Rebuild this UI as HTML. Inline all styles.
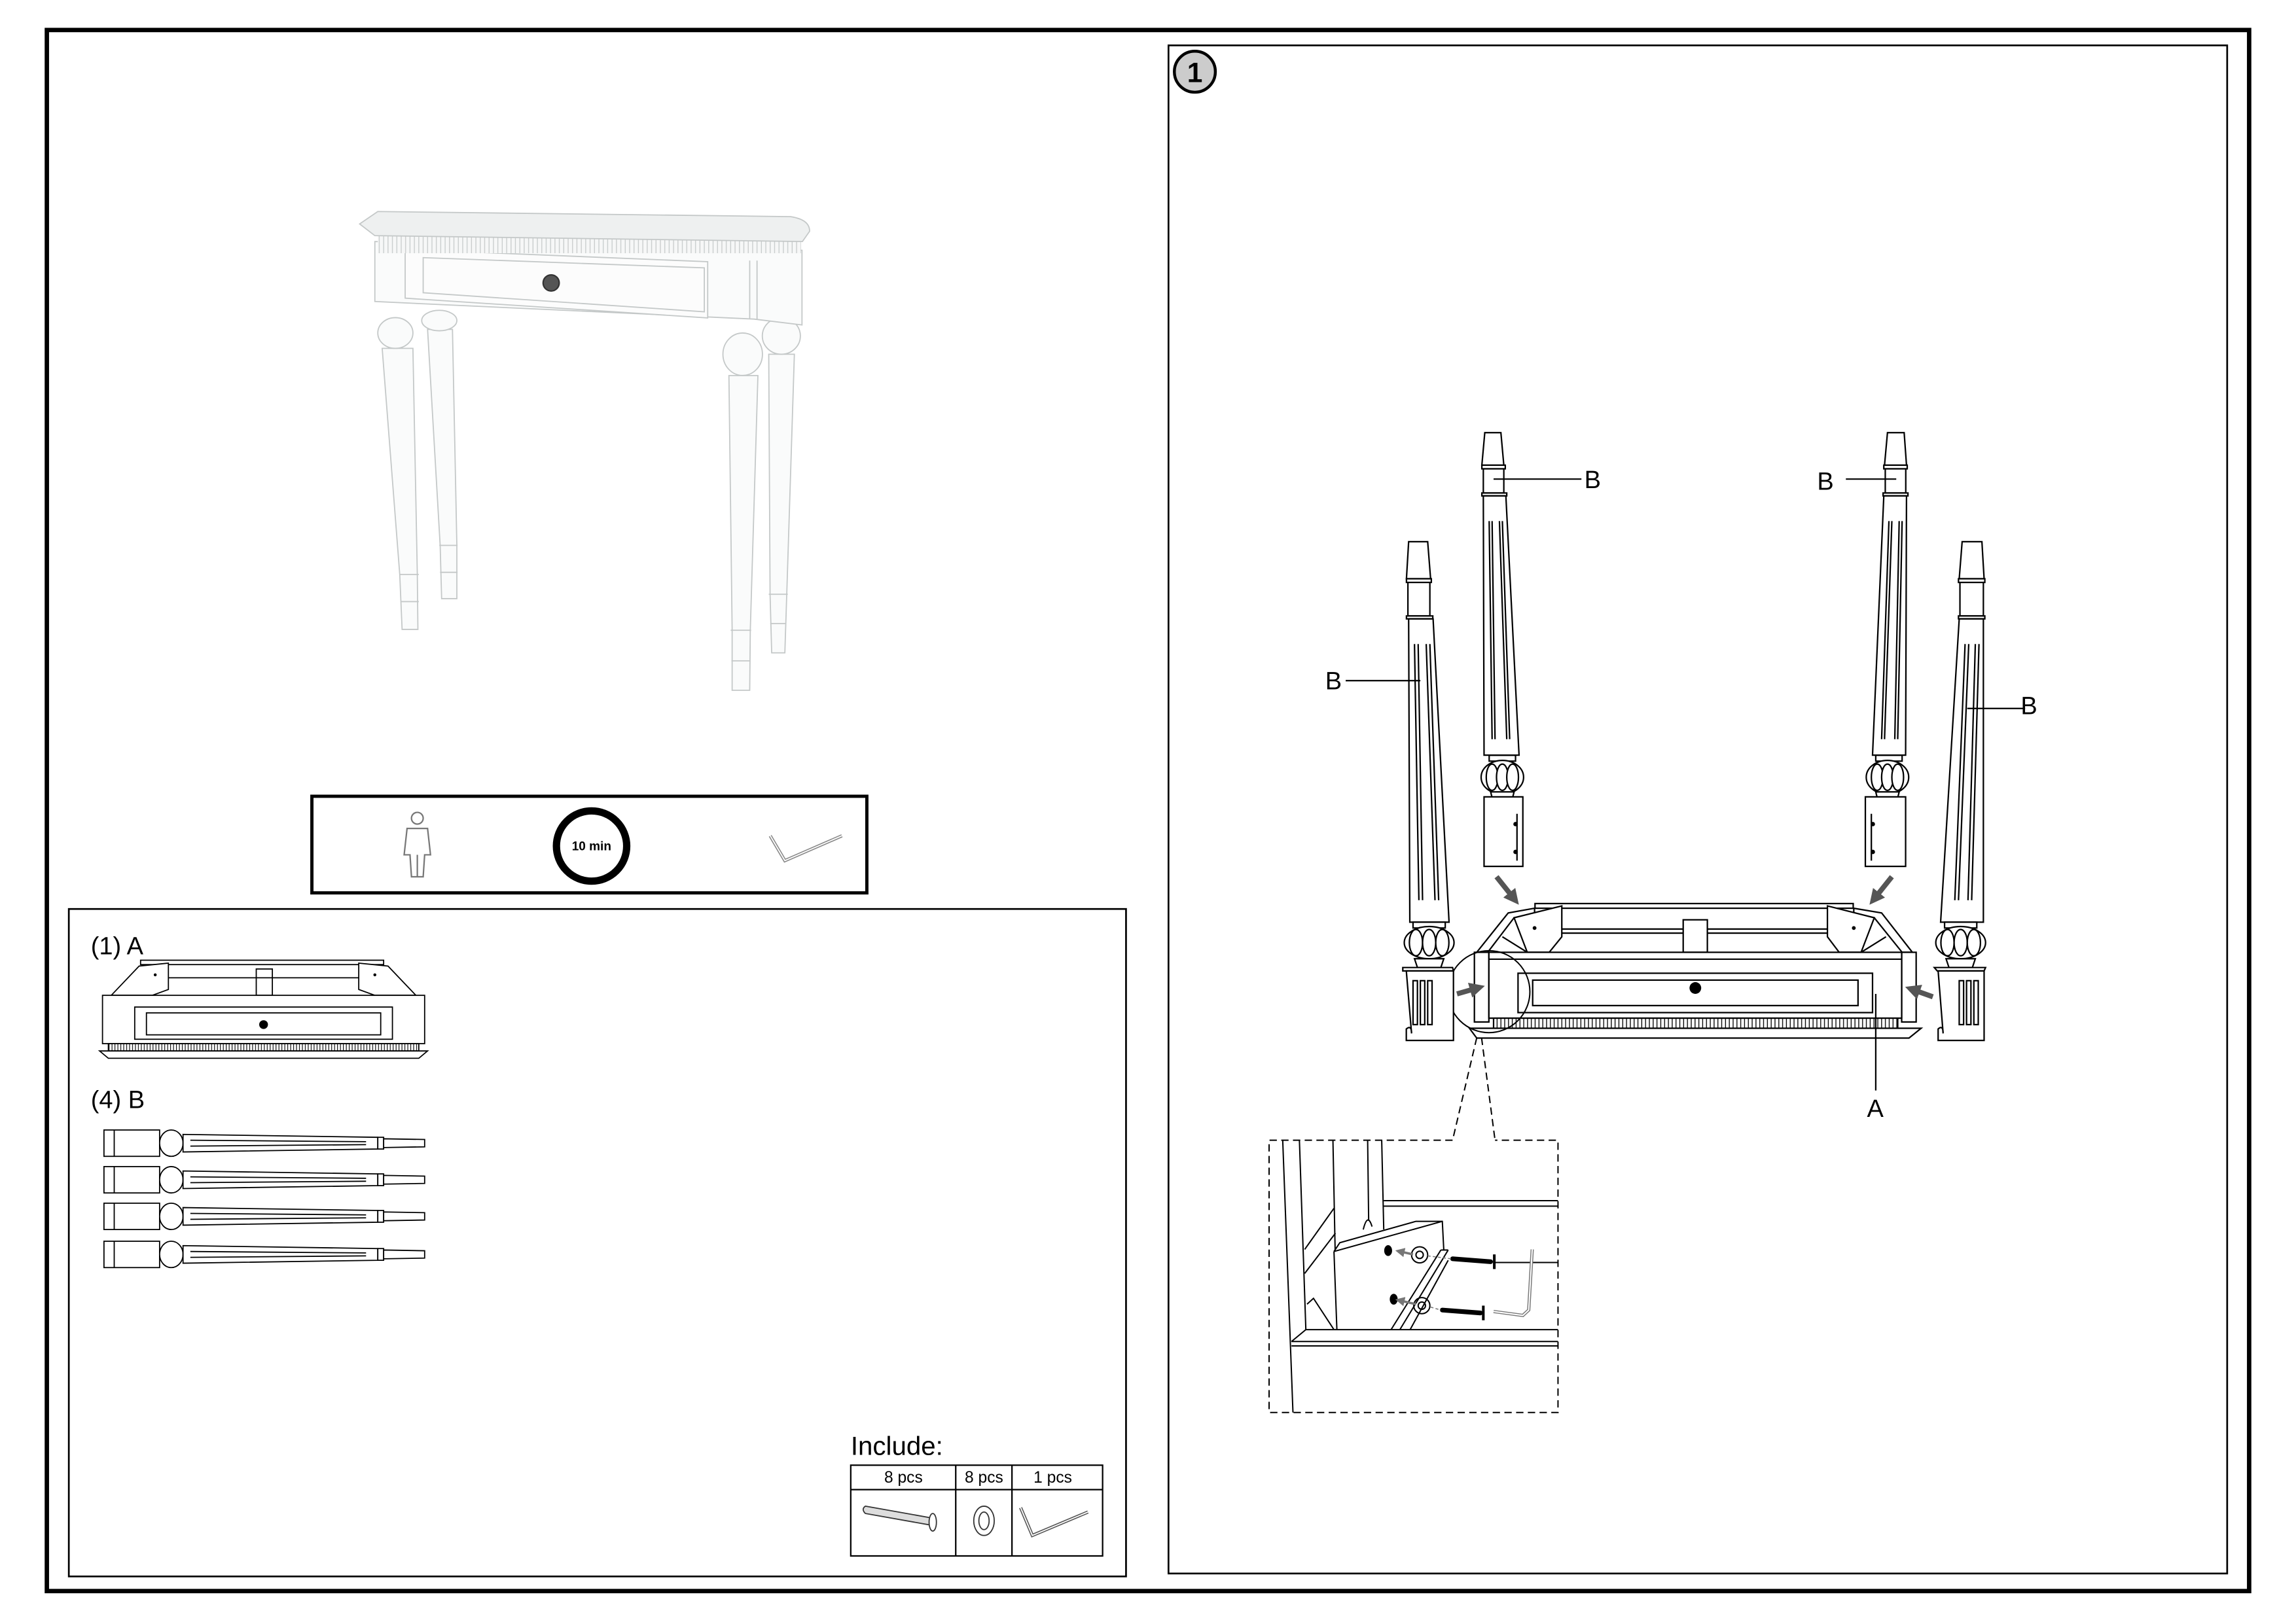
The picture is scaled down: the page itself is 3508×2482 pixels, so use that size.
<!DOCTYPE html>
<html><head><meta charset="utf-8"><style>
html,body{margin:0;padding:0;background:#fff;}
svg{display:block;}
text{font-family:"Liberation Sans",sans-serif;}
</style></head><body>
<svg width="3508" height="2482" viewBox="0 0 1568 1109.5" preserveAspectRatio="none" xmlns="http://www.w3.org/2000/svg">
<defs>
<marker id="ah" viewBox="0 0 10 10" refX="5" refY="5" markerWidth="3" markerHeight="3" orient="auto"><path d="M0,0 L10,5 L0,10 z" fill="#555"/></marker>
<marker id="ah2" viewBox="0 0 10 10" refX="5" refY="5" markerWidth="4" markerHeight="4" orient="auto"><path d="M0,0 L10,5 L0,10 z" fill="#777"/></marker>
<pattern id="tick" width="2.6" height="10" patternUnits="userSpaceOnUse"><rect width="2.6" height="10" fill="#fff"/><line x1="0.6" y1="0" x2="0.6" y2="10" stroke="#000" stroke-width="0.6"/></pattern>
<pattern id="tick2" width="2" height="10" patternUnits="userSpaceOnUse"><rect width="2" height="10" fill="#fff"/><line x1="0.5" y1="0" x2="0.5" y2="10" stroke="#000" stroke-width="0.5"/></pattern>
<pattern id="dent" width="3" height="10" patternUnits="userSpaceOnUse"><rect width="3" height="10" fill="#f6f7f7"/><line x1="1" y1="0" x2="1" y2="10" stroke="#c8cccc" stroke-width="0.6"/></pattern>
</defs>
<rect width="1568" height="1109.5" fill="#fff"/>
<rect x="32" y="20.5" width="1504" height="1066.5" fill="none" stroke="#000" stroke-width="3"/>
<rect x="798" y="31" width="723" height="1044" fill="none" stroke="#000" stroke-width="1.2"/>
<circle cx="816" cy="49" r="14" fill="#ccc" stroke="#000" stroke-width="2"/>
<text x="816" y="56" font-size="19" font-weight="bold" text-anchor="middle">1</text>
<rect x="47" y="621" width="722" height="456" fill="none" stroke="#000" stroke-width="1.2"/>

<!-- table photo -->
<g fill="#fafbfb" stroke="#c4c8c8" stroke-width="0.8">
<!-- back legs -->
<path d="M292,225 L309,225 L312,372.6 L312,409 L301.6,409 L300.6,372.6 Z"/>
<line x1="300" y1="372.6" x2="312.5" y2="372.6"/><line x1="300.5" y1="391" x2="312.5" y2="391"/>
<ellipse cx="300" cy="219" rx="12" ry="7"/>
<path d="M525,242 L542.5,242 L537.3,406 L536,446 L527,446 L525.9,406 Z"/>
<line x1="525" y1="406" x2="538" y2="406"/><line x1="526" y1="426" x2="537" y2="426"/>
<ellipse cx="533.6" cy="229.5" rx="13" ry="12.5"/>
<!-- apron -->
<path d="M256,165 L547.7,171 L547.7,222 L515,218 L256,206 Z"/>
<line x1="512" y1="178" x2="512" y2="218"/><line x1="517" y1="178" x2="517" y2="218"/>
<path d="M276.7,170.4 L483.3,178.8 L483.3,217.2 L276.7,203.7 Z" fill="#fcfcfc"/>
<path d="M289,176 L481,183 L481,213 L289,200 Z" fill="#fcfcfc"/>
<!-- top -->
<rect x="258" y="161" width="289" height="12" fill="url(#dent)" stroke="none"/>
<path d="M245.6,153 L258,144.5 L540,148 Q553,150 552.9,158 L548,165 L256,161 Z" fill="#eef0f0"/>
<!-- front legs -->
<path d="M261,238 L282,238 L285,392.5 L285.4,430 L274.6,430 L273,392.5 Z"/>
<line x1="273" y1="392.5" x2="286" y2="392.5"/><line x1="274" y1="411" x2="286" y2="411"/>
<ellipse cx="270" cy="227.5" rx="12" ry="10.5"/>
<path d="M497.8,256.6 L517.6,256.6 L512.4,430.6 L512,471.6 L500,471.6 L500,430.6 Z"/>
<line x1="499" y1="430.6" x2="513" y2="430.6"/><line x1="499.5" y1="451.5" x2="512.5" y2="451.5"/>
<ellipse cx="507.2" cy="242" rx="13.5" ry="14.5"/>
</g>
<circle cx="376.4" cy="193.3" r="5.5" fill="#555" stroke="#333"/>

<!-- tools box -->
<rect x="213" y="544" width="379" height="66" fill="none" stroke="#000" stroke-width="2.2"/>
<g fill="none" stroke="#777" stroke-width="1">
<circle cx="285" cy="559" r="4"/>
<path d="M278,566 L292,566 L294,584 L290,584 L289,599 L281,599 L280,584 L276,584 Z"/>
<line x1="285" y1="584" x2="285" y2="599"/>
</g>
<circle cx="404" cy="578" r="24" fill="#fff" stroke="#000" stroke-width="5"/>
<text x="404" y="581" font-size="8.5" font-weight="bold" text-anchor="middle">10 min</text>
<polyline points="526,571 536,588 575,571" fill="none" stroke="#888" stroke-width="2.2"/>
<polyline points="526,571 536,588 575,571" fill="none" stroke="#fff" stroke-width="0.8"/>

<!-- (1) A -->
<text x="62" y="652" font-size="17">(1) A</text>
<g fill="#fff" stroke="#000" stroke-width="0.8">
<rect x="96" y="656" width="166" height="3"/>
<path d="M76,680 L95,660 L115,658 L115,676 L104,680 Z"/>
<path d="M284,680 L265,660 L245,658 L245,676 L256,680 Z"/>
<rect x="175" y="662" width="11" height="18"/>
<line x1="115" y1="668" x2="245" y2="668"/>
<rect x="70" y="680" width="220" height="33"/>
<rect x="92" y="688" width="176" height="22"/>
<rect x="100" y="692" width="160" height="15"/>
<rect x="74" y="713" width="212" height="5" fill="url(#tick2)"/>
<path d="M68,718 L292,718 L286,723 L74,723 Z"/>
</g>
<circle cx="180" cy="700" r="3"/>
<circle cx="106" cy="666" r="1"/><circle cx="256" cy="666" r="1"/>

<!-- (4) B -->
<text x="62" y="757" font-size="17">(4) B</text>
<g fill="#fff" stroke="#000" stroke-width="0.8">
<g id="hl">
<rect x="71" y="772" width="38" height="18"/>
<ellipse cx="117" cy="781" rx="8" ry="9"/>
<path d="M125,775 L258,777 L258,785 L125,787 Z"/>
<line x1="130" y1="779" x2="250" y2="780"/><line x1="130" y1="783" x2="250" y2="782"/>
<rect x="258" y="777" width="4" height="8"/>
<path d="M262,778 L290,778.5 L290,783.5 L262,784 Z"/>
<line x1="78" y1="772" x2="78" y2="790"/>
</g>
<use href="#hl" y="25"/>
<use href="#hl" y="50"/>
<use href="#hl" y="76"/>
</g>

<!-- Include -->
<text x="581" y="994" font-size="18">Include:</text>
<g fill="none" stroke="#000" stroke-width="1">
<rect x="581" y="1001" width="172" height="62"/>
<line x1="581" y1="1017.7" x2="753" y2="1017.7"/>
<line x1="652.7" y1="1001" x2="652.7" y2="1063"/>
<line x1="691.1" y1="1001" x2="691.1" y2="1063"/>
</g>
<g font-size="11" text-anchor="middle"><text x="617" y="1013">8 pcs</text><text x="672" y="1013">8 pcs</text><text x="719" y="1013">1 pcs</text></g>
<g fill="none" stroke="#333" stroke-width="0.8">
<path d="M591,1029 L636,1037 L636,1042 L591,1034 Q588,1031 591,1029 Z" fill="#ddd"/>
<ellipse cx="637" cy="1040" rx="2.5" ry="6" fill="#fff"/>
<ellipse cx="672" cy="1039" rx="7" ry="10"/>
<ellipse cx="672" cy="1039" rx="3.5" ry="6"/>
<polyline points="697,1030 705,1049 743,1033" stroke-width="2.2" stroke="#555"/>
<polyline points="697,1030 705,1049 743,1033" stroke-width="0.8" stroke="#fff"/>
</g>

<!-- ===== Assembly ===== -->
<g fill="#fff" stroke="#000" stroke-width="1">
<rect x="1048.3" y="617.3" width="217.3" height="3.2"/>
<line x1="1066" y1="634.7" x2="1248" y2="634.7"/>
<line x1="1066" y1="637.5" x2="1248" y2="637.5"/>
<rect x="1149.5" y="628.4" width="16.5" height="22.2"/>
<path d="M1008.5,650.6 L1030,623.7 L1048,620.5 L1048,624 L1034,627 L1016,650.6 Z"/>
<path d="M1306,650.6 L1285,623.7 L1266,620.5 L1266,624 L1280,627 L1299,650.6 Z"/>
<path d="M1034,627 L1066.6,618.9 L1066.6,640 L1058,650.6 L1043,650.6 Z"/>
<path d="M1280,627 L1248,618.9 L1248,640 L1256,650.6 L1271,650.6 Z"/>
<line x1="1043" y1="650.6" x2="1026" y2="640"/><line x1="1271" y1="650.6" x2="1288" y2="640"/>
<rect x="1006.9" y="650.6" width="9.9" height="47.6"/>
<rect x="1298.7" y="650.6" width="9.9" height="47.6"/>
<rect x="1016.8" y="650.6" width="281.9" height="45"/>
<line x1="1016.8" y1="655.3" x2="1298.7" y2="655.3"/>
<rect x="1036.7" y="664.9" width="242.1" height="26.9"/>
<rect x="1046.7" y="669.6" width="222.2" height="17.4"/>
<rect x="1020" y="695.6" width="276" height="7" fill="url(#tick)"/>
<path d="M1003.5,702.5 L1312,702.5 L1303.7,709.2 L1008.5,709.2 Z"/>
</g>
<circle cx="1157.8" cy="675" r="4"/>
<circle cx="1048" cy="634" r="1.3"/><circle cx="1266" cy="634" r="1.3"/>
<circle cx="1016.8" cy="677.5" r="28" fill="none" stroke="#000" stroke-width="0.9"/>
<g stroke="#000" stroke-width="0.9" stroke-dasharray="5,3" fill="none">
<line x1="1008.5" y1="709" x2="992" y2="779"/>
<line x1="1011.8" y1="709" x2="1021" y2="779"/>
<polyline points="992,779 866.7,779 866.7,965 1064,965 1064,779 1021,779"/>
</g>

<!-- legs -->
<g fill="#fff" stroke="#000" stroke-width="1">
<path d="M1014,295.6 L1025,295.6 L1027,317.8 L1012,317.8 Z"/>
<rect x="1012" y="317.8" width="16" height="2.5"/>
<rect x="1013" y="320.3" width="14" height="16.5"/>
<rect x="1012" y="336.8" width="17" height="2"/>
<path d="M1013,338.8 L1028.4,338.8 L1037.4,515.9 L1013.5,515.9 Z"/>
<line x1="1017" y1="356" x2="1019" y2="505"/><line x1="1019" y1="356" x2="1021" y2="505"/>
<line x1="1024" y1="356" x2="1029" y2="505"/><line x1="1026" y1="356" x2="1031" y2="505"/>
<rect x="1017" y="516" width="18" height="4"/>
<ellipse cx="1026" cy="531" rx="14.5" ry="11.5"/>
<ellipse cx="1019" cy="531" rx="4" ry="9"/><ellipse cx="1026" cy="531" rx="4" ry="9"/><ellipse cx="1033" cy="531" rx="4" ry="9"/>
<path d="M1018,541 L1034,541 L1033,545 L1019,545 Z"/>
<rect x="1013.5" y="544.4" width="26.5" height="47.5"/>
<line x1="1036" y1="556" x2="1036" y2="588"/>
<path d="M1289,295.6 L1300.4,295.6 L1302,317.8 L1287,317.8 Z"/>
<rect x="1286.5" y="317.8" width="16" height="2.5"/>
<rect x="1287.5" y="320.3" width="14" height="16.5"/>
<rect x="1286" y="336.8" width="17" height="2"/>
<path d="M1286.5,338.8 L1302,338.8 L1301.4,515.9 L1278.8,515.9 Z"/>
<line x1="1290" y1="356" x2="1285" y2="505"/><line x1="1292" y1="356" x2="1287" y2="505"/>
<line x1="1297" y1="356" x2="1294" y2="505"/><line x1="1299" y1="356" x2="1296" y2="505"/>
<rect x="1281" y="516" width="18" height="4"/>
<ellipse cx="1289" cy="531" rx="14.5" ry="11.5"/>
<ellipse cx="1282" cy="531" rx="4" ry="9"/><ellipse cx="1289" cy="531" rx="4" ry="9"/><ellipse cx="1296" cy="531" rx="4" ry="9"/>
<path d="M1281,541 L1297,541 L1296,545 L1282,545 Z"/>
<rect x="1273.9" y="544.4" width="27.5" height="47.5"/>
<line x1="1278" y1="556" x2="1278" y2="588"/>
<path d="M962,370.1 L975,370.1 L977,395.4 L960.5,395.4 Z"/>
<rect x="960.5" y="395.4" width="17" height="2.5"/>
<rect x="961.5" y="397.9" width="15" height="22.9"/>
<rect x="960.5" y="420.8" width="18" height="2"/>
<path d="M962,422.8 L978.7,422.8 L989.6,630 L962.8,630 Z"/>
<line x1="966" y1="440" x2="969" y2="615"/><line x1="968.5" y1="440" x2="971.5" y2="615"/>
<line x1="974" y1="440" x2="980" y2="615"/><line x1="976.5" y1="440" x2="982.5" y2="615"/>
<rect x="965" y="630" width="22" height="4"/>
<ellipse cx="976" cy="644" rx="17" ry="11"/>
<ellipse cx="967" cy="644" rx="4.5" ry="9"/><ellipse cx="976" cy="644" rx="4.5" ry="9"/><ellipse cx="985" cy="644" rx="4.5" ry="9"/>
<path d="M966,655 L986,655 L984,661 L968,661 Z"/>
<path d="M958,661 L992,661 L992.6,663.3 L958,663.3 Z"/>
<path d="M960.4,663.3 L992.6,663.3 L992.6,710.8 L960.4,710.8 L960.4,703 Q964,700 964,706 Z"/>
<rect x="965" y="670" width="3" height="30"/><rect x="970" y="670" width="3" height="30"/><rect x="975" y="670" width="3" height="30"/>
<path d="M1340,370.1 L1353.5,370.1 L1355,395.4 L1338,395.4 Z"/>
<rect x="1337.5" y="395.4" width="18" height="2.5"/>
<rect x="1338.5" y="397.9" width="16" height="22.9"/>
<rect x="1337.5" y="420.8" width="18" height="2"/>
<path d="M1338,422.8 L1354.5,422.8 L1354.5,630 L1325.3,630 Z"/>
<line x1="1342" y1="440" x2="1335" y2="615"/><line x1="1344.5" y1="440" x2="1337.5" y2="615"/>
<line x1="1349" y1="440" x2="1344" y2="615"/><line x1="1351.5" y1="440" x2="1346.5" y2="615"/>
<rect x="1328" y="630" width="22" height="4"/>
<ellipse cx="1339" cy="644" rx="17" ry="11"/>
<ellipse cx="1330" cy="644" rx="4.5" ry="9"/><ellipse cx="1339" cy="644" rx="4.5" ry="9"/><ellipse cx="1348" cy="644" rx="4.5" ry="9"/>
<path d="M1329,655 L1349,655 L1347,661 L1331,661 Z"/>
<path d="M1321,661 L1356,661 L1355,663.3 L1323,663.3 Z"/>
<path d="M1323.6,663.3 L1355,663.3 L1355,710.8 L1323.6,710.8 L1323.6,703 Q1327,700 1327,706 Z"/>
<rect x="1338" y="670" width="3" height="30"/><rect x="1343" y="670" width="3" height="30"/><rect x="1348" y="670" width="3" height="30"/>
</g>
<circle cx="1035" cy="563" r="1.5"/><circle cx="1035" cy="582" r="1.5"/>
<circle cx="1279" cy="563" r="1.5"/><circle cx="1279" cy="582" r="1.5"/>

<g stroke="#555" stroke-width="3.5" marker-end="url(#ah)">
<line x1="1022" y1="599" x2="1034" y2="614"/>
<line x1="1292" y1="599" x2="1280" y2="614"/>
<line x1="995" y1="679" x2="1009" y2="675"/>
<line x1="1320" y1="681" x2="1306" y2="676"/>
</g>

<g stroke="#000" stroke-width="1">
<line x1="1020" y1="327.3" x2="1080" y2="327.3"/>
<line x1="1260.6" y1="327.3" x2="1295" y2="327.3"/>
<line x1="919" y1="465" x2="970" y2="465"/>
<line x1="1343.5" y1="484" x2="1383" y2="484"/>
<line x1="1281" y1="679" x2="1281" y2="745"/>
</g>
<g font-size="17">
<text x="1082" y="333.5">B</text>
<text x="1241" y="334.5">B</text>
<text x="905" y="471">B</text>
<text x="1380" y="488">B</text>
<text x="1275" y="763">A</text>
</g>

<!-- inset detail -->
<g fill="none" stroke="#000" stroke-width="0.9">
<line x1="876" y1="779" x2="883" y2="965"/>
<line x1="887.4" y1="779" x2="891.8" y2="908.4"/>
<line x1="910.3" y1="779" x2="911.8" y2="854"/>
<line x1="934" y1="779" x2="934.7" y2="834"/>
<line x1="943.6" y1="779" x2="945" y2="840"/>
<path d="M931,840 Q934,828 937,838"/>
<line x1="945" y1="820.3" x2="1064" y2="820.3"/>
<line x1="945" y1="824" x2="1064" y2="824"/>
<line x1="891" y1="853.6" x2="911" y2="825.5"/>
<line x1="891" y1="870" x2="912" y2="842.5"/>
<polyline points="892.6,891 897,887 911,908.4"/>
<path d="M911,855 L915,849 L967,834.4 L985,834.4 L986,854"/>
<line x1="911" y1="855" x2="985" y2="834.4"/>
<line x1="911" y1="855" x2="913" y2="908.4"/>
<line x1="950" y1="908.4" x2="984" y2="854"/>
<line x1="956" y1="908.4" x2="989" y2="854"/>
<line x1="963" y1="908.4" x2="989" y2="861"/>
<line x1="984" y1="854" x2="989" y2="854"/>
<line x1="891.8" y1="908.4" x2="1064" y2="908.4"/>
<line x1="882" y1="916.5" x2="1064" y2="916.5"/>
<line x1="882" y1="919.5" x2="1064" y2="919.5"/>
<line x1="882" y1="916.5" x2="891.8" y2="908.4"/>
<circle cx="969.5" cy="857.3" r="5.5"/><circle cx="969.5" cy="857.3" r="2.5"/>
<circle cx="971" cy="892" r="5.5"/><circle cx="971" cy="892" r="2.5"/>
<line x1="1021" y1="862.5" x2="1064" y2="862.5"/>
</g>
<ellipse cx="948" cy="854.4" rx="2.7" ry="3.7"/>
<ellipse cx="951.8" cy="887.6" rx="2.7" ry="3.7"/>
<g stroke="#000" stroke-width="3.2" stroke-linecap="round">
<line x1="992" y1="860" x2="1018" y2="862"/>
<line x1="985" y1="895" x2="1011" y2="897"/>
</g>
<g stroke="#000" stroke-width="1.8"><line x1="1020.5" y1="857" x2="1020.5" y2="867"/><line x1="1013" y1="892" x2="1013" y2="902"/></g>
<g stroke="#777" stroke-width="1.6" marker-end="url(#ah2)">
<line x1="965" y1="857" x2="956" y2="855"/>
<line x1="967" y1="891" x2="956" y2="888.5"/>
</g>
<g stroke="#777" stroke-width="0.7" stroke-dasharray="2,1.5"><line x1="975" y1="858" x2="991" y2="860"/><line x1="977" y1="893" x2="984" y2="895"/></g>
<polyline points="1046.4,853.6 1044,895 1040,898.7 1020,896" fill="none" stroke="#777" stroke-width="2.2"/>
<polyline points="1046.4,853.6 1044,895 1040,898.7 1020,896" fill="none" stroke="#fff" stroke-width="0.9"/>
</svg>
</body></html>
